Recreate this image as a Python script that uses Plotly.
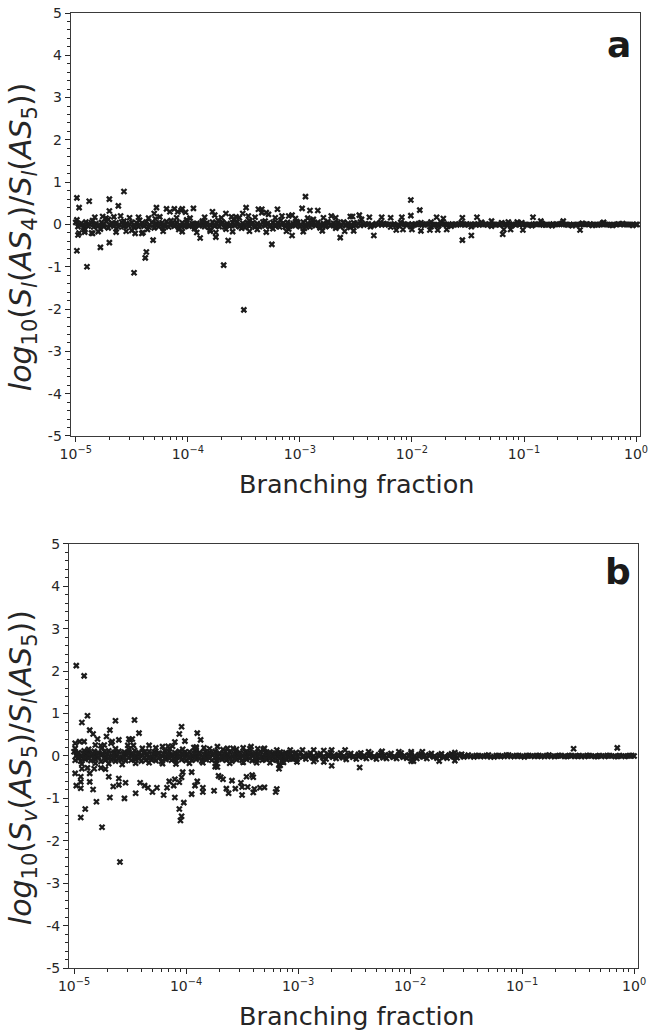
import plotly.graph_objects as go

# ---------------- Panel a : log10(Sl(AS4)/Sl(AS5)) ----------------
# dense core of the cloud (log10 of branching fraction, value)
A_CORE1_LOGX = [-5.00,-4.95,-4.91,-4.86,-4.82,-4.77,-4.73,-4.68,-4.64,-4.59,-4.55,-4.50,-4.46,-4.41,-4.37,-4.32,-4.28,-4.23,-4.19,-4.14,-4.10,-4.05,-4.01,-3.96,-3.92,-3.87,-3.83,-3.78,-3.74,-3.69,-3.65,-3.60,-3.56,-3.51,-3.47,-3.42,-3.38,-3.33,-3.29,-3.24,-3.20,-3.15,-3.11,-3.06,-3.02,-2.97,-2.93,-2.88,-2.84,-2.79,-2.75,-2.70,-2.66,-2.61,-2.57,-2.52]
A_CORE1_Y = [0.05,0.03,0.06,0.04,0.02,0.05,0.07,0.03,0.04,0.06,0.02,0.05,0.04,0.03,0.06,0.05,0.02,0.04,0.07,0.03,0.05,0.04,0.06,0.02,0.03,0.05,0.04,0.06,0.03,0.05,0.02,0.04,0.06,0.03,0.05,0.04,0.02,0.06,0.03,0.05,0.04,0.03,0.05,0.02,0.04,0.06,0.03,0.04,0.05,0.02,0.04,0.03,0.05,0.04,0.03,0.04]
A_CORE2_LOGX = [-4.98,-4.93,-4.89,-4.84,-4.80,-4.75,-4.71,-4.66,-4.62,-4.57,-4.53,-4.48,-4.44,-4.39,-4.35,-4.30,-4.26,-4.21,-4.17,-4.12,-4.08,-4.03,-3.99,-3.94,-3.90,-3.85,-3.81,-3.76,-3.72,-3.67,-3.63,-3.58,-3.54,-3.49,-3.45,-3.40,-3.36,-3.31,-3.27,-3.22,-3.18,-3.13,-3.09,-3.04,-3.00,-2.95,-2.91,-2.86,-2.82,-2.77,-2.73,-2.68,-2.64,-2.59,-2.55,-2.50]
A_CORE2_Y = [-0.05,-0.07,-0.04,-0.06,-0.03,-0.05,-0.08,-0.04,-0.06,-0.05,-0.03,-0.07,-0.05,-0.04,-0.06,-0.08,-0.05,-0.03,-0.06,-0.04,-0.07,-0.05,-0.04,-0.06,-0.03,-0.05,-0.07,-0.04,-0.05,-0.06,-0.04,-0.03,-0.05,-0.07,-0.04,-0.06,-0.05,-0.03,-0.05,-0.04,-0.06,-0.05,-0.04,-0.03,-0.05,-0.04,-0.06,-0.03,-0.04,-0.05,-0.03,-0.04,-0.05,-0.03,-0.04,-0.03]
A_CORE3_LOGX = [-4.97,-4.93,-4.88,-4.84,-4.79,-4.75,-4.70,-4.66,-4.61,-4.57,-4.52,-4.48,-4.43,-4.39,-4.34,-4.30,-4.25,-4.21,-4.16,-4.12,-4.07,-4.03,-3.98,-3.94,-3.89,-3.85,-3.80,-3.76,-3.71,-3.67,-3.62,-3.58,-3.53,-3.49,-3.44,-3.40,-3.35,-3.31,-3.26,-3.22,-3.17,-3.13,-3.08,-3.04,-2.99,-2.95,-2.90,-2.86,-2.81,-2.77,-2.72,-2.68,-2.63,-2.59,-2.54,-2.51]
A_CORE3_Y = [0.00,-0.01,0.01,0.00,-0.02,0.01,0.00,0.02,-0.01,0.00,0.01,-0.02,0.00,0.01,-0.01,0.00,0.02,-0.01,0.00,0.01,-0.01,0.00,-0.02,0.01,0.00,0.01,-0.01,0.00,0.02,-0.01,0.00,0.01,-0.01,0.00,0.01,-0.02,0.00,0.01,-0.01,0.00,0.01,0.00,-0.01,0.01,0.00,-0.01,0.00,0.01,0.00,-0.01,0.00,0.01,0.00,-0.01,0.00,0.01]
A_EDGE_LOGX = [-4.99,-4.92,-4.85,-4.78,-4.71,-4.64,-4.57,-4.50,-4.43,-4.36,-4.29,-4.22,-4.15,-4.08,-4.01,-3.94,-3.87,-3.80,-3.73,-3.66,-3.59,-3.52,-3.45,-3.38,-3.31,-3.24,-3.17,-3.10,-3.03,-2.96,-2.89,-2.82,-2.75,-2.68,-2.61,-2.55]
A_EDGE_Y = [0.11,-0.13,0.09,-0.11,0.12,-0.10,0.08,-0.14,0.10,-0.12,0.13,-0.09,0.09,-0.12,0.11,-0.10,0.08,-0.13,0.10,-0.11,0.12,-0.09,0.09,-0.12,0.08,-0.10,0.10,-0.11,0.07,-0.09,0.09,-0.08,0.07,-0.09,0.06,-0.07]
A_THIN_LOGX = [-2.48,-2.43,-2.39,-2.34,-2.30,-2.25,-2.21,-2.16,-2.12,-2.07,-2.03,-1.98,-1.94,-1.89,-1.85,-1.80,-1.76,-1.71,-1.67,-1.62,-1.58,-1.53,-1.49,-1.44,-1.40,-1.35,-1.31,-1.26,-1.22,-1.17,-1.13,-1.08,-1.04,-0.99,-0.95,-0.90,-0.86,-0.81,-0.77,-0.72,-0.68,-0.63,-0.59,-0.54,-0.50,-0.45,-0.41,-0.36,-0.32,-0.27,-0.23,-0.18,-0.14,-0.09,-0.05,0.00]
A_THIN_Y = [0.02,-0.01,0.01,-0.02,0.00,0.02,-0.01,0.01,-0.02,0.01,0.00,-0.01,0.02,-0.01,0.01,0.00,-0.02,0.01,-0.01,0.00,0.01,-0.01,0.00,0.01,-0.01,0.00,0.01,0.00,-0.01,0.00,0.01,0.00,-0.01,0.00,0.00,0.01,0.00,-0.01,0.00,0.00,0.01,0.00,0.00,-0.01,0.00,0.00,0.01,0.00,0.00,0.00,-0.01,0.00,0.00,0.00,0.00,0.00]
A_THIN2_LOGX = [-2.46,-2.41,-2.36,-2.32,-2.27,-2.23,-2.18,-2.14,-2.09,-2.05,-2.00,-1.96,-1.91,-1.87,-1.82,-1.78,-1.73,-1.69,-1.64,-1.60,-1.55,-1.51,-1.46,-1.42,-1.37,-1.33,-1.28,-1.24,-1.19,-1.15,-1.10,-1.06,-1.01,-0.97,-0.92,-0.88,-0.83,-0.79,-0.74,-0.70,-0.65,-0.61,-0.56,-0.52,-0.47,-0.43,-0.38,-0.34,-0.29,-0.25,-0.20,-0.16,-0.11,-0.07,-0.03,0.01]
A_THIN2_Y = [-0.02,0.01,-0.01,0.02,-0.01,0.01,0.00,-0.02,0.01,-0.01,0.01,0.00,-0.01,0.01,0.00,-0.01,0.01,0.00,0.01,-0.01,0.00,0.01,-0.01,0.00,0.01,-0.01,0.00,0.00,0.01,-0.01,0.00,0.01,0.00,-0.01,0.00,0.00,-0.01,0.00,0.01,0.00,0.00,-0.01,0.00,0.00,0.01,0.00,0.00,-0.01,0.00,0.00,0.00,0.01,0.00,0.00,0.00,0.00]
A_THINEDGE_LOGX = [-2.46,-2.37,-2.28,-2.19,-2.10,-2.01,-1.92,-1.83,-1.74,-1.65,-1.56,-1.47,-1.38,-1.29,-1.20,-1.11,-1.02,-0.93,-0.84,-0.75,-0.66,-0.57,-0.48,-0.39,-0.30,-0.21,-0.12,-0.03]
A_THINEDGE_Y = [0.06,-0.05,0.05,-0.06,0.05,-0.05,0.04,-0.05,0.05,-0.04,0.04,-0.05,0.04,-0.04,0.04,-0.03,0.04,-0.03,0.03,-0.03,0.03,-0.03,0.03,-0.02,0.03,-0.02,0.02,-0.02]
# scattered points off the core
A_OUT_LOGX = [-4.99,-4.97,-4.99,-4.88,-4.90,-4.70,-4.70,-4.70,-4.78,-4.62,-4.57,-4.48,-4.37,-4.38,-4.31,-4.47,-4.41,-4.28,-4.30,-4.19,-4.16,-4.12,-4.09,-4.06,-4.05,-4.02,-3.95,-3.89,-3.78,-3.76,-3.75,-3.75,-3.68,-3.66,-3.64,-3.61,-3.57,-3.54,-3.51,-3.48,-3.50,-3.46,-3.37,-3.34,-3.34,-3.30,-3.28,-3.25,-3.20,-3.16,-3.10,-3.07,-3.07,-3.04,-2.98,-2.95,-2.91,-2.88,-2.84,-2.79,-2.72,-2.64,-2.55,-2.53,-2.47,-4.97,-4.92,-4.85,-4.98,-4.86,
              -2.52,-2.45,-2.38,-2.34,-2.27,-2.19,-2.14,-2.09,-2.08,-2.01,-2.01,-2.00,-1.93,-1.92,-1.84,-1.83,-1.78,-1.77,-1.72,-1.69,-1.55,-1.55,-1.47,-1.42,-1.38,-1.29,-1.19,-1.18,-1.14,-1.12,-1.06,-1.01,-0.92,-0.85,-0.65,-0.50,-0.29,
              -4.83,-4.76,-4.73,-4.66,-4.60,-4.52,-4.44,-4.35,-4.25,-4.10,-3.98,-3.85,-3.70,-3.40,-3.22,-2.93,-2.68,-4.80,-4.64,-4.55,-4.40,-4.22,-4.05,-3.92,-3.80,-3.60,-3.45,-3.30,-3.12,-2.97,-2.80,-2.60]
A_OUT_Y = [0.63,0.40,-0.62,0.55,-1.00,0.60,0.32,-0.43,-0.54,0.44,0.78,-1.14,-0.65,-0.79,-0.37,-0.21,-0.21,0.40,0.26,0.37,0.30,0.37,0.30,0.33,0.37,0.29,0.38,-0.32,0.30,0.22,-0.19,-0.30,-0.96,0.26,-0.38,0.18,0.18,0.16,0.26,0.40,-2.02,0.20,0.36,0.36,0.28,0.28,0.24,-0.47,0.36,0.20,0.20,0.22,-0.26,0.14,0.38,0.66,0.33,0.12,0.33,0.16,0.20,-0.31,0.19,0.19,0.22,-0.20,-0.18,-0.21,-0.25,-0.20,
           -0.15,0.12,0.17,-0.26,0.17,0.16,-0.13,0.17,-0.12,0.58,0.21,-0.12,0.34,-0.15,-0.13,0.06,0.17,-0.13,0.14,-0.12,0.16,-0.37,-0.26,0.17,0.05,0.08,-0.23,-0.12,0.06,-0.12,0.06,-0.13,0.17,0.08,0.08,-0.13,0.05,
           0.17,0.19,0.15,0.18,0.20,0.16,0.17,0.15,0.18,0.16,0.15,0.17,0.16,0.17,0.16,0.15,0.16,-0.17,-0.18,-0.16,-0.19,-0.16,-0.17,-0.19,-0.16,-0.17,-0.16,-0.18,-0.16,-0.17,-0.15,-0.16]

# ---------------- Panel b : log10(Sv(AS5)/Sl(AS5)) ----------------
B_CORE1_LOGX = [-5.00,-4.96,-4.91,-4.87,-4.82,-4.78,-4.73,-4.69,-4.64,-4.60,-4.55,-4.51,-4.46,-4.42,-4.37,-4.33,-4.28,-4.24,-4.19,-4.15,-4.10,-4.06,-4.01,-3.97,-3.92,-3.88,-3.83,-3.79,-3.74,-3.70,-3.65,-3.61,-3.56,-3.52,-3.47,-3.43,-3.38,-3.34,-3.29,-3.25,-3.20,-3.16,-3.11,-3.07,-3.02]
B_CORE1_Y = [0.10,0.08,0.12,0.09,0.11,0.07,0.10,0.12,0.08,0.11,0.09,0.10,0.13,0.08,0.10,0.11,0.09,0.07,0.12,0.10,0.08,0.11,0.09,0.10,0.12,0.08,0.10,0.09,0.11,0.07,0.10,0.09,0.11,0.08,0.10,0.09,0.07,0.10,0.08,0.09,0.07,0.09,0.08,0.07,0.08]
B_CORE2_LOGX = [-4.98,-4.93,-4.89,-4.84,-4.80,-4.75,-4.71,-4.66,-4.62,-4.57,-4.53,-4.48,-4.44,-4.39,-4.35,-4.30,-4.26,-4.21,-4.17,-4.12,-4.08,-4.03,-3.99,-3.94,-3.90,-3.85,-3.81,-3.76,-3.72,-3.67,-3.63,-3.58,-3.54,-3.49,-3.45,-3.40,-3.36,-3.31,-3.27,-3.22,-3.18,-3.13,-3.09,-3.04,-3.00,-2.95,-2.91,-2.86,-2.82,-2.77,-2.73,-2.68,-2.64,-2.59,-2.55,-2.50,-2.46,-2.41,-2.37,-2.32,-2.28,-2.23,-2.19,-2.14,-2.10,-2.05,-2.01,-1.96,-1.92,-1.87,-1.83,-1.78,-1.74,-1.69,-1.65,-1.60,-1.56,-1.51]
B_CORE2_Y = [0.01,-0.02,0.02,0.00,-0.01,0.03,-0.02,0.01,0.00,-0.03,0.02,0.01,-0.01,0.00,0.02,-0.02,0.01,-0.01,0.03,0.00,-0.02,0.01,0.02,-0.01,0.00,-0.03,0.01,0.02,-0.01,0.00,0.01,-0.02,0.02,0.00,-0.01,0.01,0.00,-0.02,0.02,0.01,-0.01,0.00,0.01,-0.02,0.00,0.01,-0.01,0.00,0.02,-0.01,0.00,0.01,-0.01,0.00,0.01,0.00,-0.01,0.01,0.00,-0.01,0.00,0.01,0.00,-0.01,0.00,0.01,0.00,0.00,-0.01,0.00,0.01,0.00,0.00,-0.01,0.00,0.00,0.01,0.00]
B_CORE3_LOGX = [-4.99,-4.94,-4.90,-4.85,-4.81,-4.76,-4.72,-4.67,-4.63,-4.58,-4.54,-4.49,-4.45,-4.40,-4.36,-4.31,-4.27,-4.22,-4.18,-4.13,-4.09,-4.04,-4.00,-3.95,-3.91,-3.86,-3.82,-3.77,-3.73,-3.68,-3.64,-3.59,-3.55,-3.50,-3.46,-3.41,-3.37,-3.32,-3.28,-3.23,-3.19,-3.14,-3.10,-3.05,-3.01]
B_CORE3_Y = [-0.10,-0.12,-0.08,-0.11,-0.09,-0.13,-0.10,-0.08,-0.12,-0.09,-0.11,-0.10,-0.08,-0.12,-0.10,-0.09,-0.11,-0.13,-0.08,-0.10,-0.12,-0.09,-0.11,-0.10,-0.08,-0.12,-0.09,-0.10,-0.11,-0.08,-0.10,-0.12,-0.09,-0.10,-0.08,-0.11,-0.09,-0.10,-0.08,-0.09,-0.10,-0.08,-0.09,-0.07,-0.08]
B_CORE4_LOGX = [-4.97,-4.92,-4.88,-4.83,-4.79,-4.74,-4.70,-4.65,-4.61,-4.56,-4.52,-4.47,-4.43,-4.38,-4.34,-4.29,-4.25,-4.20,-4.16,-4.11,-4.07,-4.02,-3.98,-3.93,-3.89,-3.84,-3.80,-3.75,-3.71,-3.66,-3.62,-3.57,-3.53,-3.48,-3.44,-3.39,-3.35,-3.30,-3.26,-3.21,-3.17,-3.12,-3.08,-3.03]
B_CORE4_Y = [0.05,0.06,0.04,0.05,0.07,0.04,0.05,0.06,0.03,0.05,0.06,0.04,0.05,0.07,0.04,0.05,0.06,0.04,0.05,0.03,0.06,0.05,0.04,0.06,0.05,0.04,0.05,0.06,0.04,0.05,0.03,0.05,0.04,0.06,0.05,0.04,0.05,0.03,0.05,0.04,0.05,0.04,0.03,0.04]
B_CORE5_LOGX = [-4.96,-4.91,-4.87,-4.82,-4.78,-4.73,-4.69,-4.64,-4.60,-4.55,-4.51,-4.46,-4.42,-4.37,-4.33,-4.28,-4.24,-4.19,-4.15,-4.10,-4.06,-4.01,-3.97,-3.92,-3.88,-3.83,-3.79,-3.74,-3.70,-3.65,-3.61,-3.56,-3.52,-3.47,-3.43,-3.38,-3.34,-3.29,-3.25,-3.20,-3.16,-3.11,-3.07,-3.02]
B_CORE5_Y = [-0.05,-0.04,-0.06,-0.05,-0.03,-0.06,-0.05,-0.04,-0.07,-0.05,-0.04,-0.06,-0.05,-0.03,-0.06,-0.05,-0.04,-0.06,-0.05,-0.07,-0.04,-0.05,-0.06,-0.04,-0.05,-0.06,-0.05,-0.04,-0.06,-0.05,-0.07,-0.05,-0.06,-0.04,-0.05,-0.06,-0.05,-0.07,-0.05,-0.06,-0.05,-0.06,-0.07,-0.06]
B_EDGE_LOGX = [-4.99,-4.93,-4.87,-4.81,-4.75,-4.69,-4.63,-4.57,-4.51,-4.45,-4.39,-4.33,-4.27,-4.21,-4.15,-4.09,-4.03,-3.97,-3.91,-3.85,-3.79,-3.73,-3.67,-3.61,-3.55,-3.49,-3.43,-3.37,-3.31,-3.25,-3.19,-3.13,-3.07,-3.01]
B_EDGE_Y = [0.18,-0.19,0.16,-0.17,0.19,-0.18,0.17,-0.20,0.16,-0.17,0.18,-0.16,0.19,-0.18,0.17,-0.19,0.16,-0.17,0.18,-0.16,0.17,-0.18,0.15,-0.17,0.16,-0.15,0.17,-0.16,0.15,-0.16,0.14,-0.15,0.14,-0.14]
B_MID_LOGX = [-2.98,-2.93,-2.89,-2.84,-2.80,-2.75,-2.71,-2.66,-2.62,-2.57,-2.53,-2.48,-2.44,-2.39,-2.35,-2.30,-2.26,-2.21,-2.17,-2.12,-2.08,-2.03,-1.99,-1.94,-1.90,-1.85,-1.81,-1.76,-1.72,-1.67,-1.63,-1.58,-1.54]
B_MID_Y = [0.08,-0.07,0.07,-0.08,0.06,-0.07,0.08,-0.06,0.07,-0.08,0.06,-0.07,0.07,-0.06,0.06,-0.07,0.07,-0.06,0.06,-0.06,0.07,-0.05,0.06,-0.06,0.05,-0.06,0.06,-0.05,0.05,-0.05,0.05,-0.04,0.04]
B_MID2_LOGX = [-2.96,-2.91,-2.87,-2.82,-2.78,-2.73,-2.69,-2.64,-2.60,-2.55,-2.51,-2.46,-2.42,-2.37,-2.33,-2.28,-2.24,-2.19,-2.15,-2.10,-2.06,-2.01,-1.97,-1.92,-1.88,-1.83,-1.79,-1.74,-1.70,-1.65,-1.61,-1.56,-1.52]
B_MID2_Y = [-0.03,0.04,-0.04,0.03,-0.03,0.04,-0.03,0.03,-0.04,0.03,-0.03,0.04,-0.03,0.03,-0.03,0.03,-0.04,0.03,-0.03,0.03,-0.03,0.02,-0.03,0.03,-0.02,0.03,-0.02,0.02,-0.03,0.02,-0.02,0.02,-0.02]
B_THIN_LOGX = [-1.48,-1.43,-1.39,-1.34,-1.30,-1.25,-1.21,-1.16,-1.12,-1.07,-1.03,-0.98,-0.94,-0.89,-0.85,-0.80,-0.76,-0.71,-0.67,-0.62,-0.58,-0.53,-0.49,-0.44,-0.40,-0.35,-0.31,-0.26,-0.22,-0.17,-0.13,-0.08,-0.04,0.00]
B_THIN_Y = [0.02,-0.02,0.01,-0.01,0.02,-0.02,0.01,-0.01,0.02,-0.01,0.01,-0.02,0.01,-0.01,0.01,-0.01,0.02,-0.01,0.01,-0.01,0.01,-0.01,0.01,-0.01,0.01,-0.01,0.01,-0.01,0.01,-0.01,0.01,-0.01,0.01,0.00]
B_THIN2_LOGX = [-1.46,-1.41,-1.37,-1.32,-1.28,-1.23,-1.19,-1.14,-1.10,-1.05,-1.01,-0.96,-0.92,-0.87,-0.83,-0.78,-0.74,-0.69,-0.65,-0.60,-0.56,-0.51,-0.47,-0.42,-0.38,-0.33,-0.29,-0.24,-0.20,-0.15,-0.11,-0.06,-0.02]
B_THIN2_Y = [-0.01,0.01,-0.01,0.01,-0.02,0.01,-0.01,0.02,-0.01,0.01,-0.01,0.01,0.00,0.01,-0.01,0.01,-0.01,0.00,0.01,-0.01,0.01,0.00,-0.01,0.01,0.00,-0.01,0.00,0.01,0.00,-0.01,0.00,0.00,0.01]
B_OUT_LOGX = [-4.98,-4.91,-4.88,-4.93,-4.86,-4.83,-4.79,-4.99,-4.95,-4.91,-4.81,-4.76,-4.73,-4.71,-4.68,-4.66,-4.67,-4.63,-4.60,-4.51,-4.50,-4.48,-4.46,-4.42,-4.52,-4.47,-4.33,-4.21,-4.16,-4.12,-4.06,-4.04,-4.01,-4.10,-3.90,-3.87,-3.93,-3.91,-3.84,-3.72,-3.63,-3.58,-3.49,-3.42,-3.36,-3.30,
              -4.99,-4.98,-4.94,-4.94,-4.94,-4.86,-4.86,-4.83,-4.93,-4.88,-4.82,-4.76,-4.72,-4.69,-4.65,-4.60,-4.60,-4.54,-4.41,-4.37,-4.34,-4.26,-4.17,-4.15,-4.11,-4.10,-4.06,-4.04,-4.03,-3.95,-3.92,-3.90,-3.85,-3.74,-3.72,-3.71,-3.69,-3.67,-3.64,-3.59,-3.56,-3.51,-3.50,-3.46,-3.45,-3.40,-3.41,-3.39,-3.34,-3.30,-3.19,-3.17,-3.17,-3.16,
              -4.94,-4.75,-4.59,-4.05,-4.04,-4.06,-4.02,-4.10,-4.20,-4.30,-4.45,-4.55,-4.68,-4.80,-4.90,-3.95,-3.85,-3.75,-3.62,-3.50,-3.40,-3.20,
              -2.96,-2.86,-2.77,-2.70,-2.58,-2.86,-2.77,-2.70,-2.45,-2.37,-2.25,-2.10,-1.99,-1.89,-1.99,-1.97,-1.74,-1.60,-1.60,-0.54,-0.15]
B_OUT_Y = [2.13,1.89,0.95,0.79,0.61,0.52,0.40,0.30,0.34,0.34,0.26,0.24,0.26,0.46,0.61,0.34,0.30,0.83,0.38,0.40,0.38,0.40,0.85,0.54,0.25,0.25,0.25,0.22,0.23,0.23,0.52,0.69,0.35,0.33,0.54,0.38,0.20,0.21,0.19,0.22,0.18,0.18,0.19,0.22,0.17,0.18,
           -0.41,-0.70,-0.61,-0.49,-0.76,-0.41,-0.61,-0.79,-0.30,-0.28,-0.30,-0.28,-0.31,-0.49,-0.72,-0.53,-0.68,-0.63,-0.63,-0.70,-0.75,-0.75,-0.75,-0.60,-0.70,-0.55,-0.62,-0.50,-0.38,-0.38,-0.70,-0.60,-0.75,-0.25,-0.26,-0.47,-0.50,-0.55,-0.77,-0.58,-0.77,-0.63,-0.73,-0.49,-0.73,-0.50,-0.45,-0.78,-0.75,-0.74,-0.78,-0.20,-0.30,-0.22,
           -1.45,-1.68,-2.50,-1.52,-1.42,-1.25,-1.10,-0.98,-0.92,-0.85,-0.88,-1.00,-0.98,-1.08,-1.25,-0.90,-0.85,-0.82,-0.88,-0.92,-0.86,-0.85,
           0.14,0.14,0.13,0.14,0.14,-0.13,-0.14,-0.23,-0.27,0.10,0.11,0.10,0.10,0.10,-0.12,-0.12,-0.12,0.08,-0.11,0.17,0.19]

Y_TICKS = [-5, -4, -3, -2, -1, 0, 1, 2, 3, 4, 5]
Y_TICKTEXT = ["-5", "-4", "-3", "-2", "-1", "0", "1", "2", "3", "4", "5"]
X_TICKS = [1e-5, 1e-4, 1e-3, 1e-2, 1e-1, 1e0]
X_TICKTEXT = ["10<sup>−5</sup>", "10<sup>−4</sup>", "10<sup>−3</sup>", "10<sup>−2</sup>", "10<sup>−1</sup>", "10<sup>0</sup>"]
X_MINOR = [m * 10.0 ** e for e in range(-5, 0) for m in range(2, 10)]

A_LOGX = A_CORE1_LOGX + A_CORE2_LOGX + A_CORE3_LOGX + A_EDGE_LOGX + A_THIN_LOGX + A_THIN2_LOGX + A_THINEDGE_LOGX + A_OUT_LOGX
A_Y = A_CORE1_Y + A_CORE2_Y + A_CORE3_Y + A_EDGE_Y + A_THIN_Y + A_THIN2_Y + A_THINEDGE_Y + A_OUT_Y
B_LOGX = (B_CORE1_LOGX + B_CORE2_LOGX + B_CORE3_LOGX + B_CORE4_LOGX + B_CORE5_LOGX + B_EDGE_LOGX
          + B_MID_LOGX + B_MID2_LOGX + B_THIN_LOGX + B_THIN2_LOGX + B_OUT_LOGX)
B_Y = (B_CORE1_Y + B_CORE2_Y + B_CORE3_Y + B_CORE4_Y + B_CORE5_Y + B_EDGE_Y
       + B_MID_Y + B_MID2_Y + B_THIN_Y + B_THIN2_Y + B_OUT_Y)

FONT = "DejaVu Sans"
INK = "#262626"
MARK = "#1c1c1c"
MARKER = dict(symbol="x-thin", size=5, color=MARK, line=dict(width=2.3, color=MARK))

fig = go.Figure()
fig.add_trace(go.Scatter(x=[10 ** v for v in A_LOGX], y=A_Y, mode="markers", marker=MARKER,
                         xaxis="x", yaxis="y", showlegend=False))
fig.add_trace(go.Scatter(x=[10 ** v for v in B_LOGX], y=B_Y, mode="markers", marker=MARKER,
                         xaxis="x2", yaxis="y2", showlegend=False))

def xaxis_cfg(domain, anchor):
    return dict(type="log", range=[-5.045, 0.035], domain=domain, anchor=anchor,
                tickmode="array", tickvals=X_TICKS, ticktext=X_TICKTEXT,
                ticks="outside", ticklen=5, tickwidth=1, tickcolor=INK,
                minor=dict(tickmode="array", tickvals=X_MINOR, ticks="outside", ticklen=3,
                           tickwidth=1, tickcolor=INK, showgrid=False),
                showline=True, linecolor="#3a3a3a", linewidth=1.2, mirror=True,
                showgrid=False, zeroline=False, automargin=False,
                tickfont=dict(family=FONT, size=14, color=INK))

def yaxis_cfg(domain, anchor):
    return dict(range=[-5, 5], domain=domain, anchor=anchor,
                tickmode="array", tickvals=Y_TICKS, ticktext=Y_TICKTEXT,
                ticks="outside", ticklen=5, tickwidth=1, tickcolor=INK,
                minor=dict(dtick=0.2, ticks="outside", ticklen=3, tickwidth=1,
                           tickcolor=INK, showgrid=False),
                showline=True, linecolor="#3a3a3a", linewidth=1.2, mirror=True,
                showgrid=False, zeroline=False, automargin=False,
                tickfont=dict(family=FONT, size=14, color=INK))

ann = []
ylab_a = "<i>log</i><sub>10</sub>(<i>S<sub>l</sub></i>(<i>AS</i><sub>4</sub>)/<i>S<sub>l</sub></i>(<i>AS</i><sub>5</sub>))"
ylab_b = "<i>log</i><sub>10</sub>(<i>S<sub>v</sub></i>(<i>AS</i><sub>5</sub>)/<i>S<sub>l</sub></i>(<i>AS</i><sub>5</sub>))"
for ytxt, ycen_px, letter, ylet_px, xlab_px in [(ylab_a, 237, "a", 45, 484), (ylab_b, 768, "b", 571, 1016)]:
    ann.append(dict(text=ytxt, xref="paper", yref="paper", x=-0.082, y=(968 - ycen_px) / 955,
                    textangle=-90, showarrow=False, xanchor="center", yanchor="middle",
                    font=dict(family=FONT, size=30, color=INK)))
    ann.append(dict(text="<b>" + letter + "</b>", xref="paper", yref="paper", x=(633 - 69) / 571,
                    y=(968 - ylet_px) / 955, showarrow=False, xanchor="right", yanchor="middle",
                    font=dict(family=FONT, size=36, color="#1a1a1a")))
    ann.append(dict(text="Branching fraction", xref="paper", yref="paper", x=0.503,
                    y=(968 - xlab_px) / 955, showarrow=False, xanchor="center", yanchor="middle",
                    font=dict(family=FONT, size=25.5, color=INK)))

fig.update_layout(
    width=649, height=1030,
    margin=dict(l=69, r=9, t=13, b=62, autoexpand=False),
    paper_bgcolor="white", plot_bgcolor="white",
    xaxis=xaxis_cfg([0.003, 1.0], "y"),
    yaxis=yaxis_cfg([0.5571, 1.0], "x"),
    xaxis2=xaxis_cfg([0.0, 0.9965], "y2"),
    yaxis2=yaxis_cfg([0.0, 0.444], "x2"),
    annotations=ann,
    font=dict(family=FONT, color=INK),
)

fig.write_html("out.html", config={"displayModeBar": False},
               post_script="document.body.style.margin='0px';")
